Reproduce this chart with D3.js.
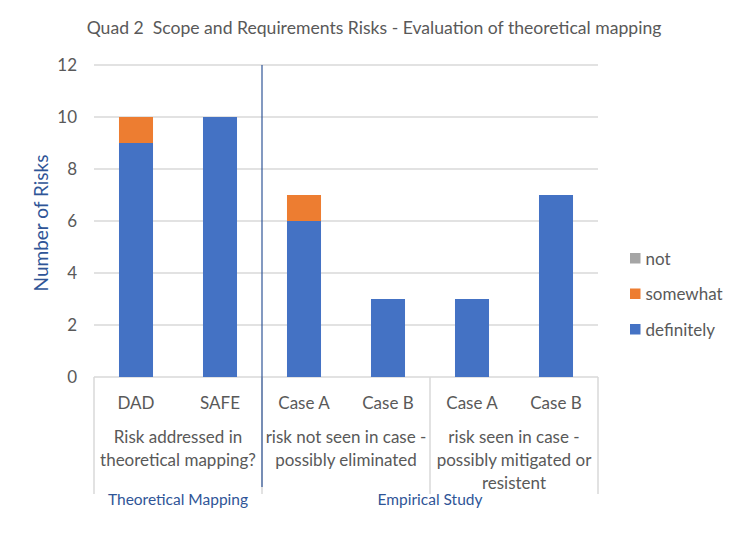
<!DOCTYPE html>
<html><head><meta charset="utf-8">
<script src="https://cdn.jsdelivr.net/npm/d3@7"></script>
<style>body{margin:0;background:#fff}svg{display:block}text{font-family:Lato,"Open Sans",sans-serif}</style>
</head><body>
<svg id="c" width="746" height="545"></svg>
<script>
const categories = ["DAD","SAFE","Case A","Case B","Case A","Case B"];
const groups = [
  {lines:["Risk addressed in","theoretical mapping?"], from:0, to:2},
  {lines:["risk not seen in case -","possibly eliminated"], from:2, to:4},
  {lines:["risk seen in case -","possibly mitigated or","resistent"], from:4, to:6}
];
const supergroups = [
  {label:"Theoretical Mapping", from:0, to:2},
  {label:"Empirical Study", from:2, to:6}
];
const definitely = [9,10,6,3,3,7];
const somewhat   = [1,0,1,0,0,0];
const not        = [0,0,0,0,0,0];
const seriesNames = ["definitely","somewhat","not"];
const colors = {definitely:"#4472C4", somewhat:"#ED7D31", not:"#A5A5A5"};
const yTicks = [0,2,4,6,8,10,12];
const title = "Quad 2  Scope and Requirements Risks - Evaluation of theoretical mapping";
const yTitle = "Number of Risks";

const svg = d3.select("#c");
const L=94, R=598, T=65, B=377;
const idx = categories.map((d,i)=>i);
const x = d3.scaleBand().domain(idx).range([L,R]).paddingInner(0.595).paddingOuter(0.2975);
const xb = d3.scaleLinear().domain([0,categories.length]).range([L,R]);
const y = d3.scaleLinear().domain([0,12]).range([B,T]);
const grey="#595959", line="#D9D9D9", blue="#2F5597";

svg.append("text").attr("x",374).attr("y",34).attr("text-anchor","middle")
  .attr("fill",grey).attr("font-size",17.6).style("white-space","pre").text(title);

// gridlines
svg.append("g").selectAll("line").data(yTicks).join("line")
  .attr("x1",L).attr("x2",R).attr("y1",d=>y(d)).attr("y2",d=>y(d))
  .attr("stroke",line).attr("stroke-width",1.5);
// y labels
const ya = svg.append("g").attr("transform",`translate(${L-8},0)`)
  .call(d3.axisLeft(y).tickValues(yTicks).tickSize(0).tickPadding(9));
ya.select(".domain").remove();
ya.selectAll("text").attr("fill",grey).attr("font-size",17).attr("font-family","Lato, sans-serif");

svg.append("text").attr("transform",`translate(48,${(T+B)/2+2}) rotate(-90)`)
  .attr("text-anchor","middle").attr("fill",blue).attr("font-size",19).text(yTitle);

// stacked bars
const rows = idx.map(i=>({i, definitely:definitely[i], somewhat:somewhat[i], not:not[i]}));
const stack = d3.stack().keys(seriesNames)(rows);
svg.append("g").selectAll("g").data(stack).join("g").attr("fill",d=>colors[d.key])
  .selectAll("rect").data(d=>d).join("rect")
  .attr("x",d=>x(d.data.i)).attr("width",x.bandwidth())
  .attr("y",d=>y(d[1])).attr("height",d=>y(d[0])-y(d[1]));

// category axis lines
const axB = 494;
const bounds = [0,2,4,6];
svg.append("g").selectAll("line").data(bounds).join("line")
  .attr("x1",d=>xb(d)).attr("x2",d=>xb(d)).attr("y1",B).attr("y2",axB)
  .attr("stroke",line).attr("stroke-width",1.5);

// category labels
svg.append("g").selectAll("text").data(idx).join("text")
  .attr("x",i=>x(i)+x.bandwidth()/2).attr("y",409).attr("text-anchor","middle")
  .attr("fill",grey).attr("font-size",17).text(i=>categories[i]);

// group labels
groups.forEach(g=>{
  const cx=(xb(g.from)+xb(g.to))/2;
  g.lines.forEach((t,k)=>{
    svg.append("text").attr("x",cx).attr("y",443+k*23).attr("text-anchor","middle")
      .attr("fill",grey).attr("font-size",17).text(t);
  });
});
supergroups.forEach(g=>{
  svg.append("text").attr("x",(xb(g.from)+xb(g.to))/2).attr("y",505).attr("text-anchor","middle")
    .attr("fill",blue).attr("font-size",15.5).text(g.label);
});

// separator line
svg.append("line").attr("x1",xb(2)).attr("x2",xb(2)).attr("y1",T).attr("y2",487)
  .attr("stroke",blue).attr("stroke-width",1.2);

// legend
const leg = ["not","somewhat","definitely"];
const lg = svg.append("g").selectAll("g").data(leg).join("g")
  .attr("transform",(d,k)=>`translate(630,${253+k*35.5})`);
lg.append("rect").attr("width",10.5).attr("height",10.5).attr("fill",d=>colors[d]);
lg.append("text").attr("x",15.5).attr("y",11.5).attr("fill",grey).attr("font-size",17).text(d=>d);
</script>
</body></html>
